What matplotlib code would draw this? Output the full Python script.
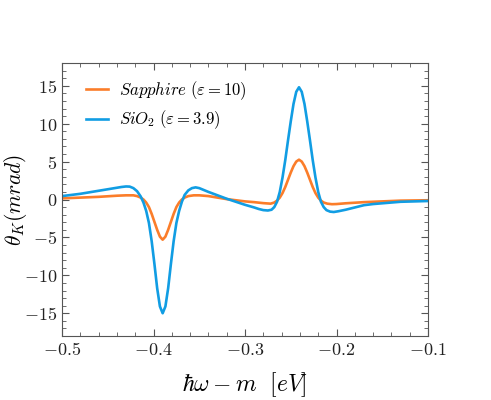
import numpy as np
import matplotlib
matplotlib.use('Agg')
import matplotlib.pyplot as plt
from matplotlib.ticker import MultipleLocator, FuncFormatter

# values
x_sio2 = [-0.50, -0.48, -0.46, -0.45, -0.44, -0.435, -0.430, -0.426, -0.422, -0.418,
          -0.414, -0.411, -0.408, -0.405, -0.402, -0.399, -0.396, -0.393, -0.390, -0.387,
          -0.384, -0.381, -0.378, -0.375, -0.372, -0.369, -0.366, -0.362, -0.358, -0.354,
          -0.350, -0.345, -0.34, -0.33, -0.32, -0.31, -0.30, -0.29, -0.285, -0.28,
          -0.275, -0.271, -0.268, -0.265, -0.262, -0.259, -0.256, -0.253, -0.250, -0.247,
          -0.244, -0.241, -0.238, -0.235, -0.232, -0.229, -0.226, -0.223, -0.220, -0.217,
          -0.214, -0.211, -0.207, -0.203, -0.198, -0.19, -0.18, -0.17, -0.16, -0.15,
          -0.13, -0.10]
y_sio2 = [0.45, 0.75, 1.15, 1.35, 1.55, 1.65, 1.72, 1.7, 1.5, 1.1,
          0.4, -0.4, -1.5, -3.1, -5.5, -8.5, -11.7, -14.1, -15.0, -14.1,
          -11.7, -8.5, -5.5, -3.1, -1.5, -0.3, 0.6, 1.2, 1.5, 1.6,
          1.5, 1.25, 1.0, 0.55, 0.1, -0.3, -0.7, -1.05, -1.25, -1.4,
          -1.45, -1.35, -1.0, -0.3, 1.0, 2.9, 5.2, 7.8, 10.3, 12.6,
          14.2, 14.8, 14.2, 12.6, 10.3, 7.8, 5.2, 2.9, 1.0, -0.3,
          -1.0, -1.4, -1.6, -1.65, -1.55, -1.35, -1.05, -0.75, -0.6, -0.5,
          -0.3, -0.2]

x_sapph = [-0.50, -0.48, -0.46, -0.44, -0.43, -0.422, -0.418, -0.414, -0.411, -0.408,
           -0.405, -0.402, -0.399, -0.396, -0.393, -0.390, -0.387, -0.384, -0.381, -0.378,
           -0.375, -0.372, -0.369, -0.366, -0.362, -0.356, -0.35, -0.34, -0.33, -0.32,
           -0.31, -0.30, -0.29, -0.28, -0.272, -0.268, -0.265, -0.262, -0.259, -0.256,
           -0.253, -0.250, -0.247, -0.244, -0.241, -0.238, -0.235, -0.232, -0.229, -0.226,
           -0.223, -0.220, -0.217, -0.214, -0.210, -0.205, -0.20, -0.19, -0.17, -0.15,
           -0.13, -0.10]
y_sapph = [0.15, 0.25, 0.35, 0.5, 0.55, 0.55, 0.45, 0.25, 0.0, -0.4,
           -1.0, -1.9, -2.95, -4.0, -4.9, -5.3, -4.9, -4.0, -2.95, -1.9,
           -1.0, -0.4, 0.0, 0.25, 0.45, 0.55, 0.55, 0.45, 0.25, 0.05,
           -0.1, -0.25, -0.35, -0.48, -0.55, -0.4, -0.15, 0.25, 0.85, 1.65,
           2.6, 3.55, 4.4, 5.0, 5.25, 5.0, 4.4, 3.55, 2.6, 1.65,
           0.85, 0.25, -0.15, -0.4, -0.55, -0.62, -0.6, -0.5, -0.35, -0.25,
           -0.15, -0.1]

plt.rcParams['mathtext.fontset'] = 'cm'
plt.rcParams['font.family'] = 'serif'

fig = plt.figure(figsize=(4.91, 4.0), dpi=100)
ax = fig.add_axes([0.1263, 0.16, 0.7454, 0.6825])

ax.plot(x_sapph, y_sapph, color='#fb7d2a', lw=1.9, label=r'$Sapphire\ (\varepsilon = 10)$')
ax.plot(x_sio2, y_sio2, color='#119de3', lw=1.9, label=r'$SiO_2\ (\varepsilon = 3.9)$')

ax.set_xlim(-0.5, -0.1)
ax.set_ylim(-18, 18)
ax.xaxis.set_major_locator(MultipleLocator(0.1))
ax.xaxis.set_minor_locator(MultipleLocator(0.02))
ax.yaxis.set_major_locator(MultipleLocator(5))
ax.yaxis.set_minor_locator(MultipleLocator(1))
ax.xaxis.set_major_formatter(FuncFormatter(lambda v, p: r'$%.1f$' % v if abs(v) > 1e-9 else r'$0$'))
ax.yaxis.set_major_formatter(FuncFormatter(lambda v, p: r'$%d$' % round(v)))
ax.tick_params(which='both', direction='in', top=True, right=True, colors='#555555',
               labelcolor='#222222', labelsize=13)
ax.tick_params(which='major', length=5)
ax.tick_params(which='minor', length=3)
for s in ax.spines.values():
    s.set_color('#555555')

ax.set_xlabel(r'$\hbar\omega - m\ \ [eV]$', fontsize=17, labelpad=8)
ax.set_ylabel(r'$\theta_K(mrad)$', fontsize=15.5)
ax.yaxis.set_label_coords(-0.09, 0.5)

ax.legend(loc='upper left', frameon=False, fontsize=12, handlelength=1.3,
          handletextpad=0.7, bbox_to_anchor=(0.025, 0.995), labelspacing=0.4)

fig.savefig('out.png', dpi=100)
